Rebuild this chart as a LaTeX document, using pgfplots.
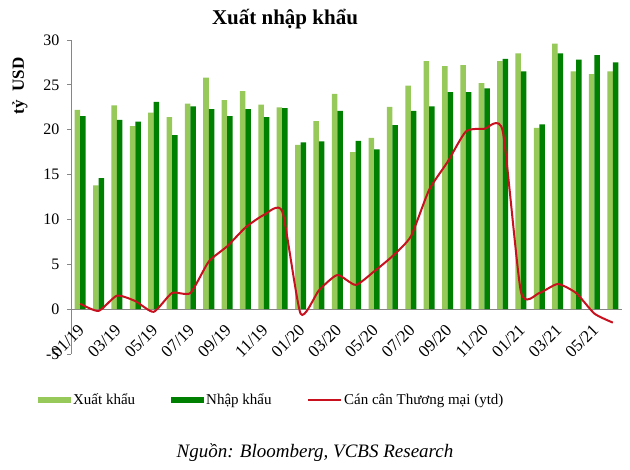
\documentclass[border=0pt]{standalone}
\usepackage{fontspec}
\setmainfont{Liberation Serif}
\usepackage{pgfplots}
\usepackage{pgfplotstable}
\pgfplotsset{compat=1.18}
\definecolor{lightg}{RGB}{150,200,90}
\definecolor{darkg}{RGB}{0,128,0}
\definecolor{redl}{RGB}{200,16,30}
\definecolor{axgray}{RGB}{134,134,134}
\pgfplotstableread{
i ex im bal
0 22.2 21.5 0.6
1 13.8 14.6 -0.2
2 22.7 21.1 1.5
3 20.4 20.9 0.9
4 21.9 23.1 -0.3
5 21.4 19.4 1.8
6 22.9 22.6 1.8
7 25.8 22.3 5.3
8 23.3 21.5 7.0
9 24.3 22.3 9.1
10 22.8 21.4 10.5
11 22.5 22.4 10.9
12 18.3 18.6 -0.5
13 20.95 18.7 2.1
14 24.0 22.1 3.8
15 17.5 18.75 2.7
16 19.1 17.8 4.2
17 22.55 20.5 5.9
18 24.9 22.1 8.1
19 27.65 22.6 13.3
20 27.1 24.2 16.4
21 27.2 24.2 19.8
22 25.2 24.6 20.1
23 27.65 27.9 19.9
24 28.5 26.5 1.9
25 20.2 20.6 1.8
26 29.6 28.5 2.8
27 26.5 27.8 1.8
28 26.2 28.3 -0.5
29 26.5 27.5 -1.5
}\data
\begin{document}
\begin{tikzpicture}
\path[use as bounding box] (0pt,0pt) rectangle (630pt,470pt);
\begin{axis}[
  at={(71pt,116pt)}, anchor=south west,
  scale only axis, width=551pt, height=314pt,
  xmin=-0.5, xmax=29.5, ymin=-5, ymax=30,
  axis x line*=middle, axis y line*=left,
  axis line style={axgray, line width=0.8pt},
  tick style={axgray, line width=0.8pt},
  ytick={-5,0,...,30},
  ytick align=outside,
  major tick length=4pt,
  xtick={0,2,...,28},
  xticklabels={01/19,03/19,05/19,07/19,09/19,11/19,01/20,03/20,05/20,07/20,09/20,11/20,01/21,03/21,05/21},
  x tick style={draw=none},
  extra x ticks={1.5,3.5,...,29.5},
  extra x tick labels={},
  extra x tick style={tick style={axgray, line width=0.8pt}, xtick align=outside, major tick length=5pt},
  /pgf/number format/assume math mode=true,
  yticklabel style={font=\fontsize{16}{18}\selectfont, xshift=-4pt},
  xticklabel style={font=\fontsize{17}{19}\selectfont, xshift=-3pt, yshift=-9pt, rotate=45, anchor=north east},
  legend style={at={(axis description cs:-0.06,-0.1465)}, anchor=west, draw=none, fill=none,
    font=\fontsize{15}{17}\selectfont, inner sep=0pt,
    /tikz/every even column/.append style={column sep=34pt}},
  legend columns=3,
  legend cell align=left,
  clip=false,
]
\addplot[ybar, bar width=0.3, bar shift=-0.15, fill=lightg, draw=none,
  legend image code/.code={\fill[lightg] (0pt,-3pt) rectangle (33pt,3pt);}]
  table[x=i, y=ex] {\data};
\addlegendentry{Xuất khẩu}
\addplot[ybar, bar width=0.3, bar shift=0.15, fill=darkg, draw=none,
  legend image code/.code={\fill[darkg] (0pt,-3pt) rectangle (33pt,3pt);}]
  table[x=i, y=im] {\data};
\addlegendentry{Nhập khẩu}
\addplot[redl, line width=2pt, smooth, tension=0.35, no markers,
  legend image code/.code={\draw[redl, line width=1.5pt] (0pt,0pt) -- (33pt,0pt);}]
  table[x=i, y=bal] {\data};
\addlegendentry{Cán cân Thương mại (ytd)}
\end{axis}
\node[font=\bfseries\fontsize{21}{23}\selectfont] at (285pt,451pt) {Xuất nhập khẩu};
\node[font=\bfseries\fontsize{17}{19}\selectfont, rotate=90] at (20pt,384pt) {tỷ\ \ USD};
\node[font=\itshape\fontsize{19}{21}\selectfont] at (315pt,17pt) {Nguồn: Bloomberg, VCBS Research};
\end{tikzpicture}
\end{document}
